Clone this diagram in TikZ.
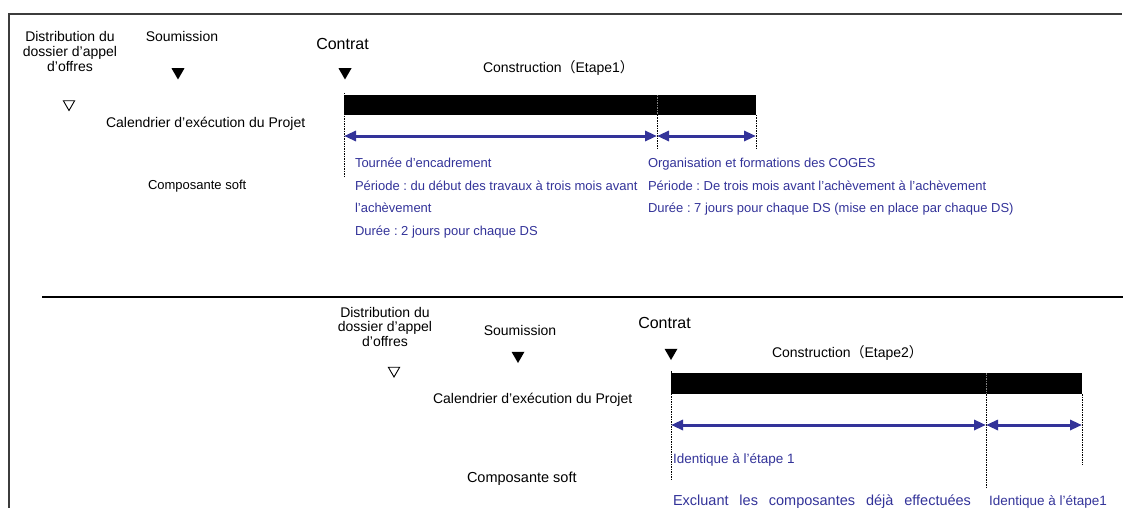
\documentclass[tikz,border=0pt]{standalone}
\usepackage{fontspec}
\setmainfont{Liberation Sans}
\newfontfamily\cjkfont{Noto Sans CJK SC}
\usepackage{xcolor}
\usepackage{tikz}
\usetikzlibrary{shapes.geometric, arrows.meta, positioning, calc}
\definecolor{myblue}{RGB}{51,51,153}
\definecolor{myframe}{RGB}{60,60,60}
\frenchspacing
\tikzset{
  lbl/.style={inner sep=0pt, outer sep=0pt, font=\fontsize{14}{14.7}\selectfont},
  bigl/.style={inner sep=0pt, outer sep=0pt, font=\fontsize{16}{18}\selectfont},
  bluetxt/.style={inner sep=0pt, outer sep=0pt, text=myblue, font=\fontsize{13}{15}\selectfont},
  bar/.style={rectangle, fill=black, inner sep=0pt, outer sep=0pt, minimum height=20pt},
  milestone/.style={regular polygon, regular polygon sides=3, shape border rotate=180,
    fill=black, minimum size=15pt, inner sep=0pt, outer sep=0pt},
  openmilestone/.style={regular polygon, regular polygon sides=3, shape border rotate=180,
    draw=black, line width=0.9pt, minimum size=13pt, inner sep=0pt, outer sep=0pt},
  span/.style={{Triangle[length=12pt,width=10pt]}-{Triangle[length=12pt,width=10pt]},
    line width=3pt, color=myblue},
  guide/.style={black, line width=0.8pt, dash pattern=on 1.5pt off 1pt}
}

\begin{document}
\begin{tikzpicture}[x=1pt, y=-1pt]
  \useasboundingbox (0,0) rectangle (1123,508);

  % Frame and separator
  \draw[myframe, line width=1.6pt] (9,508) -- (9,14) -- (1122,14);
  \draw[black, line width=1.6pt] (42,297) -- (1123,297);

  % Stage 1 labels
  \node[lbl, align=center, anchor=north] (dist1) at (70,31.6) {Distribution du\\dossier d’appel\\d’offres};
  \node[lbl, anchor=base] (soum1) at (182,41.7) {Soumission};
  \node[bigl, anchor=base] (contr1) at (342.5,50) {Contrat};
  \node[openmilestone] (dtri1) at (69,104) {};
  \node[milestone] (stri1) at (178,72) {};
  \node[milestone] (ctri1) at (345,72) {};
  \node[lbl, anchor=base west] (cal1) at (106,127.6) {Calendrier d’exécution du Projet};
  \node[lbl, font=\fontsize{13}{15}\selectfont, anchor=base west] (soft1) at (148,189) {Composante soft};
  \node[lbl, anchor=base west] (cons1) at (483,73) {Construction{\cjkfont （}Etape1{\cjkfont ）}};

  % Stage 1 bar
  \node[bar, minimum width=412pt, anchor=north west] (bar1) at (344,95) {};
  \coordinate (p1a) at (344,93);  \coordinate (p1b) at (344,178);
  \coordinate (p2a) at (657,95);  \coordinate (p2b) at (657,148);
  \coordinate (p3a) at (756,115); \coordinate (p3b) at (756,148);
  \coordinate (s1) at (344,136); \coordinate (s2) at (657,136); \coordinate (s3) at (756,136);
  \draw[guide] (p1a) -- (p1b);
  \draw[guide, gray] (p2a) -- (bar1.south -| p2a);
  \draw[guide] (bar1.south -| p2a) -- (p2b);
  \draw[guide] (p3a) -- (p3b);
  \draw[span] (s1) -- (s2);
  \draw[span] (s2) -- (s3);

  % Stage 1 soft component
  \node[bluetxt, anchor=base west] (tour) at (355,167) {Tournée d'encadrement};
  \node[bluetxt, anchor=base west] (per1) at (355,190) {Période : du début des travaux à trois mois avant};
  \node[bluetxt, anchor=base west] (per1b) at (355,212.7) {l'achèvement};
  \node[bluetxt, anchor=base west] (dur1) at (355,235) {Durée : 2 jours pour chaque DS};
  \node[bluetxt, anchor=base west] (orga) at (648,167) {Organisation et formations des COGES};
  \node[bluetxt, anchor=base west] (per2) at (648,190) {Période : De trois mois avant l'achèvement à l'achèvement};
  \node[bluetxt, anchor=base west] (dur2) at (648,212.7) {Durée : 7 jours pour chaque DS (mise en place par chaque DS)};

  % Stage 2 labels
  \node[lbl, align=center, anchor=north] (dist2) at (385,307) {Distribution du\\dossier d’appel\\d’offres};
  \node[lbl, anchor=base] (soum2) at (520,335) {Soumission};
  \node[bigl, anchor=base] (contr2) at (664.5,328) {Contrat};
  \node[openmilestone] (dtri2) at (394,370.5) {};
  \node[milestone] (stri2) at (518,355.5) {};
  \node[milestone] (ctri2) at (671,352.5) {};
  \node[lbl, anchor=base west] (cal2) at (433,403) {Calendrier d’exécution du Projet};
  \node[lbl, font=\fontsize{14.5}{16}\selectfont, anchor=base west] (soft2) at (467,482) {Composante soft};
  \node[lbl, anchor=base west] (cons2) at (772,357) {Construction{\cjkfont （}Etape2{\cjkfont ）}};

  % Stage 2 bar
  \node[bar, minimum width=411pt, minimum height=21pt, anchor=north west] (bar2) at (671,373) {};
  \coordinate (q1a) at (671,371); \coordinate (q1b) at (671,479);
  \coordinate (q2a) at (986,373); \coordinate (q2b) at (986,487);
  \coordinate (q3a) at (1082,394); \coordinate (q3b) at (1082,465);
  \coordinate (r1) at (671,425); \coordinate (r2) at (986,425); \coordinate (r3) at (1082,425);
  \draw[guide] (q1a) -- (q1b);
  \draw[guide, gray] (q2a) -- (bar2.south -| q2a);
  \draw[guide] (bar2.south -| q2a) -- (q2b);
  \draw[guide] (q3a) -- (q3b);
  \draw[span] (r1) -- (r2);
  \draw[span] (r2) -- (r3);

  % Stage 2 soft component
  \node[bluetxt, font=\fontsize{13.5}{15}\selectfont, anchor=base west] (iden1) at (673,463) {Identique à l'étape 1};
  \node[bluetxt, font=\fontsize{14.5}{16}\selectfont, anchor=base west] (excl) at (673,505.5)
    {\makebox[298pt][s]{Excluant les composantes déjà effectuées}};
  \node[bluetxt, font=\fontsize{13.5}{15}\selectfont, anchor=base west] (iden2) at (989,505.5) {Identique à l'étape1};

\end{tikzpicture}
\end{document}
